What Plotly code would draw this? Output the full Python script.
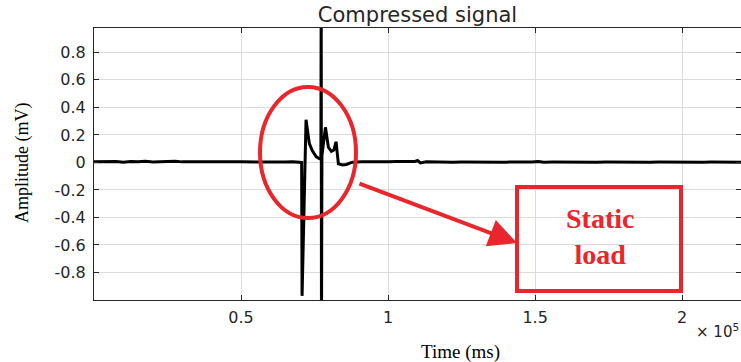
import plotly.graph_objects as go

# ---------------- data (time in ms, amplitude in mV) ----------------
pre_time = [0, 2500, 5000, 7500, 10000, 12500, 15000, 17500, 20000, 22500,
            25000, 27500, 30000, 32500, 35000, 37500, 40000, 42500, 45000,
            47500, 50000, 52500, 55000, 57500, 60000, 62500, 65000, 67500, 70000]
pre_amp = [0.004, 0.005, 0.003, 0.006, 0.002, 0.007, 0.004, 0.008, 0.003, 0.006,
           0.005, 0.009, 0.004, 0.006, 0.003, 0.005, 0.004, 0.006, 0.003,
           0.005, 0.004, 0.003, 0.005, 0.004, 0.003, 0.004, 0.003, 0.004, 0.003]

event_time = [70600, 70750, 72100, 72800, 73230, 74250, 75610, 76630, 77150,
              77250, 77350, 77500, 78700, 79690, 80710, 81560, 82310, 83100,
              84460, 85820, 87180]
event_amp = [0.0, -0.97, 0.31, 0.2, 0.136, 0.085, 0.04, 0.027, 0.03,
             1.3, -1.3, 0.05, 0.255, 0.11, 0.08, 0.09, 0.15, -0.01,
             -0.018, -0.015, -0.003]

post_time = [88000, 91000, 94000, 97000, 100000, 103000, 106000, 109000, 110000,
             111000, 113000, 116000, 119000, 122000, 125000, 128000, 131000,
             134000, 137000, 140000, 143000, 146000, 149000, 151000, 153000,
             156000, 159000, 162000, 165000, 168000, 171000, 174000, 177000,
             180000, 183000, 186000, 189000, 192000, 195000, 198000, 201000,
             204000, 207000, 210000, 213000, 216000, 220000]
post_amp = [0.002, 0.004, 0.003, 0.005, 0.004, 0.006, 0.005, 0.006, 0.014,
            -0.004, 0.004, 0.002, 0.003, 0.002, 0.003, 0.002, 0.003,
            0.002, 0.003, 0.002, 0.003, 0.002, 0.003, 0.007, 0.002,
            0.003, 0.002, 0.003, 0.002, 0.003, 0.002, 0.003, 0.002,
            0.003, 0.002, 0.003, 0.002, 0.003, 0.002, 0.003, 0.002,
            0.003, 0.002, 0.003, 0.002, 0.003, 0.002]

x_tick_vals = [50000, 100000, 150000, 200000]
x_tick_text = ["0.5", "1", "1.5", "2"]
y_tick_vals = [-0.8, -0.6, -0.4, -0.2, 0, 0.2, 0.4, 0.6, 0.8]
y_tick_text = ["-0.8", "-0.6", "-0.4", "-0.2", "0", "0.2", "0.4", "0.6", "0.8"]

time_ms = pre_time + event_time + post_time
amplitude = pre_amp + event_amp + post_amp

# ---------------- layout geometry ----------------
W, H = 741, 362
L, T, R, B = 94, 28, 741, 300
pw, ph = R - L, B - T


def px(xp):
    return (xp - L) / pw


def py(yp):
    return (B - yp) / ph


RED = "#e8262b"
AX = "#262626"

fig = go.Figure()
fig.add_trace(go.Scatter(x=time_ms, y=amplitude, mode="lines",
                         line=dict(color="black", width=3), showlegend=False,
                         hoverinfo="skip"))
# invisible trace on the right axis (for mirrored ticks without a line)
fig.add_trace(go.Scatter(x=[0], y=[0], yaxis="y2", mode="markers",
                         marker=dict(opacity=0), showlegend=False,
                         hoverinfo="skip"))

tick_font = dict(family="DejaVu Sans", size=16, color=AX)

fig.update_layout(
    width=W, height=H,
    margin=dict(l=L, r=W - R, t=T, b=H - B, pad=0),
    paper_bgcolor="white", plot_bgcolor="white",
    title=dict(text="Compressed signal", x=0.5, xref="paper",
               y=1 - 15 / H, yref="container", yanchor="middle",
               xanchor="center",
               font=dict(family="DejaVu Sans", size=21, color=AX)),
    xaxis=dict(range=[0, 220000], tickvals=x_tick_vals, ticktext=x_tick_text,
               showgrid=True, gridcolor="#dcdcdc", gridwidth=1,
               zeroline=False, showline=True, linecolor=AX, linewidth=1.2,
               mirror="ticks", ticks="inside", ticklen=5, tickcolor=AX,
               tickfont=tick_font, ticklabelstandoff=3, automargin=False),
    yaxis=dict(range=[-1, 0.977], tickvals=y_tick_vals, ticktext=y_tick_text,
               showgrid=True, gridcolor="#dcdcdc", gridwidth=1,
               zeroline=False, showline=True, linecolor=AX, linewidth=1.2,
               ticks="inside", ticklen=5, tickcolor=AX,
               tickfont=tick_font, ticklabelstandoff=4, automargin=False),
    yaxis2=dict(range=[-1, 0.977], overlaying="y", side="right",
                tickvals=y_tick_vals, showticklabels=False, showgrid=False,
                zeroline=False, showline=False, ticks="inside", ticklen=5,
                tickcolor=AX, automargin=False),
    shapes=[
        dict(type="circle", xref="paper", yref="paper",
             x0=px(260), x1=px(356), y0=py(218), y1=py(87),
             line=dict(color=RED, width=4)),
        dict(type="rect", xref="paper", yref="paper",
             x0=px(517), x1=px(681), y0=py(291), y1=py(187),
             line=dict(color=RED, width=4)),
    ],
    annotations=[
        dict(text="Amplitude (mV)", xref="paper", yref="paper",
             x=px(22), y=py(163), xanchor="center", yanchor="middle",
             textangle=-90, showarrow=False,
             font=dict(family="Liberation Serif", size=18, color="black")),
        dict(text="Time (ms)", xref="paper", yref="paper",
             x=px(460), y=py(352), xanchor="center", yanchor="middle",
             showarrow=False,
             font=dict(family="Liberation Serif", size=19, color="black")),
        dict(text="\u00d7 10<sup>5</sup>", xref="paper", yref="paper",
             x=1, y=py(331), xanchor="right", yanchor="middle",
             showarrow=False,
             font=dict(family="DejaVu Sans", size=15, color=AX)),
        dict(text="<b>Static</b><br><b>load</b>", xref="paper", yref="paper",
             x=px(600), y=py(237), xanchor="center", yanchor="middle",
             showarrow=False,
             font=dict(family="Liberation Serif", size=28, color=RED)),
        dict(text="", xref="paper", yref="paper",
             x=px(517), y=py(243), ax=358 - 517, ay=183 - 243,
             axref="pixel", ayref="pixel",
             showarrow=True, arrowhead=2, arrowsize=1.4, arrowwidth=4,
             arrowcolor=RED),
    ],
)

fig.write_html("out.html", config={"displayModeBar": False},
               post_script="document.body.style.margin='0';"
                           "document.body.style.overflow='hidden';")
